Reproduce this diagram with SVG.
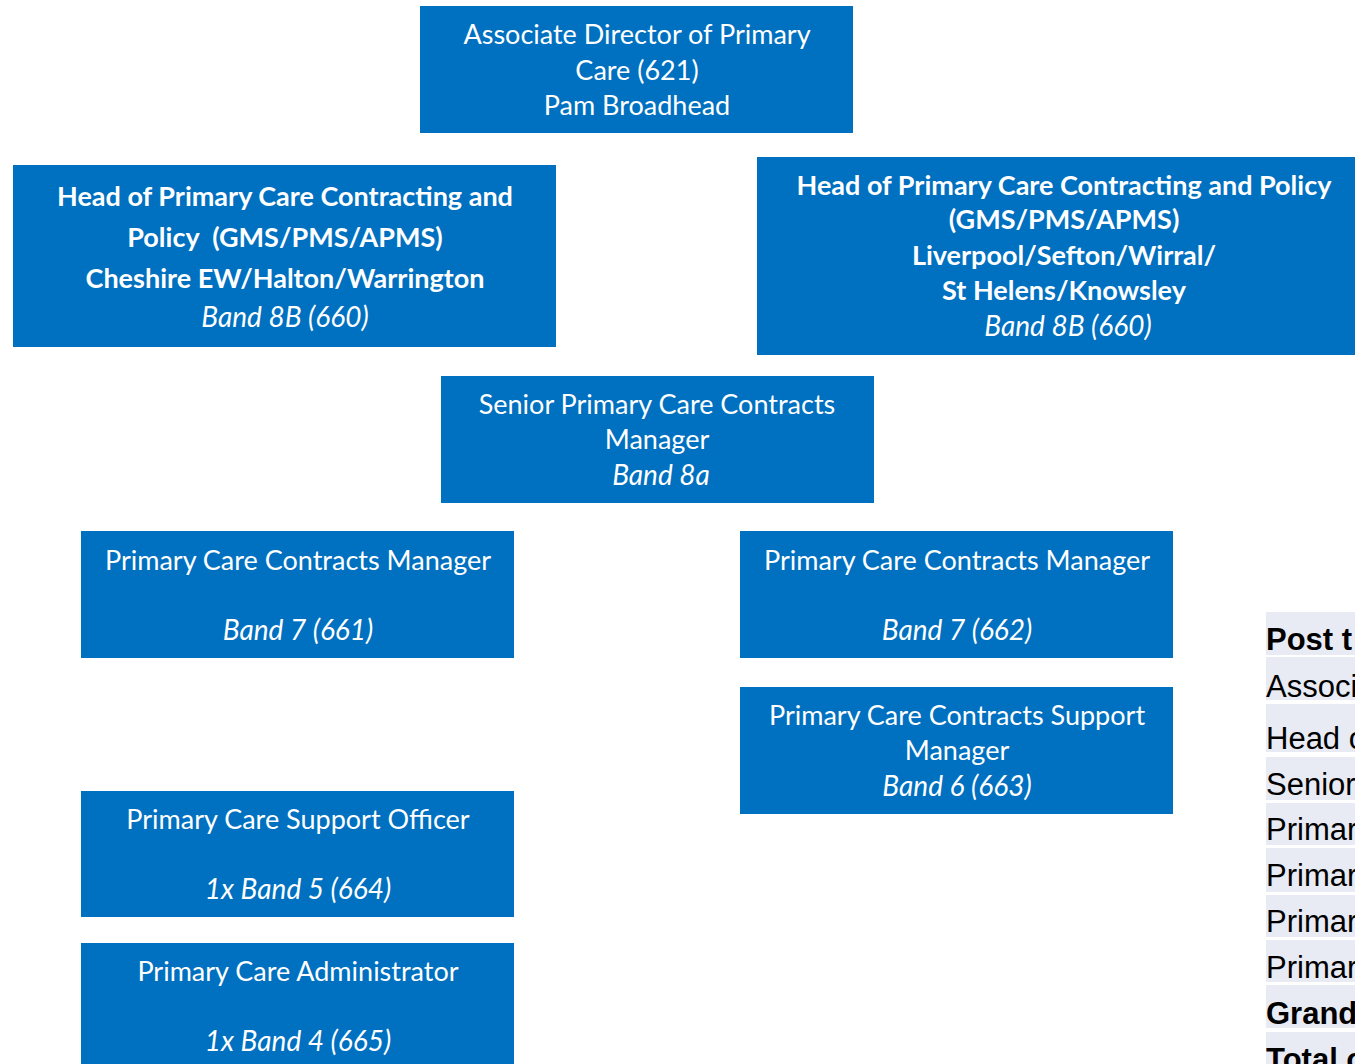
<svg xmlns="http://www.w3.org/2000/svg" width="1355" height="1064" viewBox="0 0 1355 1064">
<style>
.box{fill:#0070C0;}
.t{font-family:Lato,"Liberation Sans",sans-serif;font-size:27px;fill:#ffffff;text-anchor:middle;}
.b{font-weight:bold;}
.i{font-style:italic;font-size:28px;}
.row{fill:#E8EAF4;}
.tt{font-family:"Liberation Sans",Arial,sans-serif;font-size:31px;fill:#000000;}
.conn{stroke:#5B7DB5;stroke-width:1.3;fill:none;}
</style>
<rect width="1355" height="1064" fill="#ffffff"/>
<g id="connectors">
<line class="conn" x1="247" y1="832" x2="247" y2="863"/>
</g>
<g id="n-assoc-director">
<rect class="box" x="420" y="6" width="433" height="127"/>
<text class="t" x="637" y="44">Associate Director of Primary</text>
<text class="t" x="637" y="80">Care (621)</text>
<text class="t" x="637" y="115">Pam Broadhead</text>
</g>
<g id="n-head-cheshire">
<rect class="box" x="13" y="165" width="543" height="182"/>
<text class="t b" x="285" y="206">Head of Primary Care Contracting and</text>
<text class="t b" x="285" y="247">Policy&#160; (GMS/PMS/APMS)</text>
<text class="t b" x="285" y="288">Cheshire EW/Halton/Warrington</text>
<text class="t i" x="285" y="327">Band 8B (660)</text>
</g>
<g id="n-head-liverpool">
<rect class="box" x="757" y="157" width="600" height="198"/>
<text class="t b" x="1064" y="195">Head of Primary Care Contracting and Policy</text>
<text class="t b" x="1064" y="229">(GMS/PMS/APMS)</text>
<text class="t b" x="1064" y="265">Liverpool/Sefton/Wirral/</text>
<text class="t b" x="1064" y="300">St Helens/Knowsley</text>
<text class="t i" x="1068" y="336">Band 8B (660)</text>
</g>
<g id="n-senior">
<rect class="box" x="441" y="376" width="433" height="127"/>
<text class="t" x="657" y="414">Senior Primary Care Contracts</text>
<text class="t" x="657" y="449">Manager</text>
<text class="t i" x="661" y="485">Band 8a</text>
</g>
<g id="n-pccm-661">
<rect class="box" x="81" y="531" width="433" height="127"/>
<text class="t" x="298" y="570">Primary Care Contracts Manager</text>
<text class="t i" x="298" y="640">Band 7 (661)</text>
</g>
<g id="n-pccm-662">
<rect class="box" x="740" y="531" width="433" height="127"/>
<text class="t" x="957" y="570">Primary Care Contracts Manager</text>
<text class="t i" x="957" y="640">Band 7 (662)</text>
</g>
<g id="n-support-manager">
<rect class="box" x="740" y="687" width="433" height="127"/>
<text class="t" x="957" y="725">Primary Care Contracts Support</text>
<text class="t" x="957" y="760">Manager</text>
<text class="t i" x="957" y="796">Band 6 (663)</text>
</g>
<g id="n-support-officer">
<rect class="box" x="81" y="791" width="433" height="126"/>
<text class="t" x="298" y="829">Primary Care Support Officer</text>
<text class="t i" x="298" y="899">1x Band 5 (664)</text>
</g>
<g id="n-administrator">
<rect class="box" x="81" y="943" width="433" height="125"/>
<text class="t" x="298" y="981">Primary Care Administrator</text>
<text class="t i" x="298" y="1051">1x Band 4 (665)</text>
</g>
<g id="table">
<rect class="row" x="1266" y="612" width="89" height="43"/>
<rect class="row" x="1266" y="657" width="89" height="43"/>
<rect class="row" x="1266" y="704" width="89" height="48"/>
<rect class="row" x="1266" y="757" width="89" height="43"/>
<rect class="row" x="1266" y="803" width="89" height="42"/>
<rect class="row" x="1266" y="848" width="89" height="44"/>
<rect class="row" x="1266" y="895" width="89" height="42"/>
<rect class="row" x="1266" y="940" width="89" height="42"/>
<rect class="row" x="1266" y="985" width="89" height="43"/>
<rect class="row" x="1266" y="1032" width="89" height="32"/>
<text class="tt b" x="1266" y="650">Post t</text>
<text class="tt" x="1266" y="697">Associ</text>
<text class="tt" x="1266" y="749">Head o</text>
<text class="tt" x="1266" y="795">Senior</text>
<text class="tt" x="1266" y="840">Primar</text>
<text class="tt" x="1266" y="886">Primar</text>
<text class="tt" x="1266" y="932">Primar</text>
<text class="tt" x="1266" y="978">Primar</text>
<text class="tt b" x="1266" y="1024">Grand</text>
<text class="tt b" x="1266" y="1070">Total o</text>
</g>
</svg>
